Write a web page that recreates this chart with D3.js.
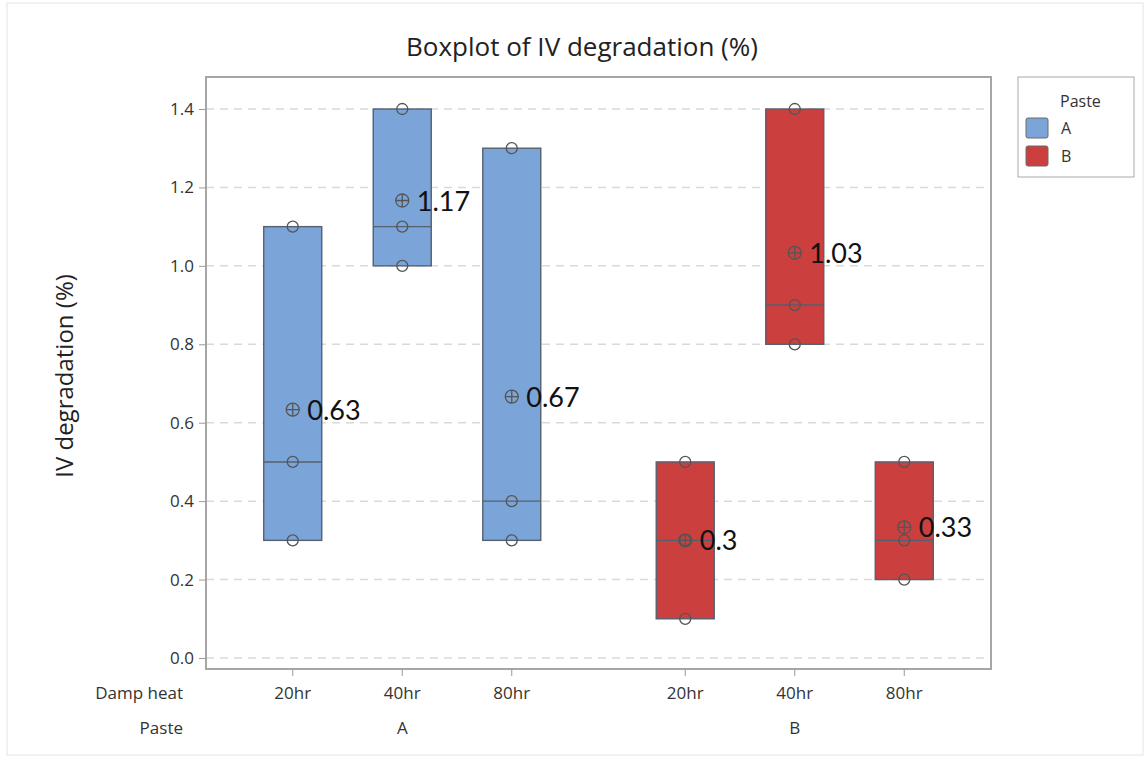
<!DOCTYPE html>
<html>
<head>
<meta charset="utf-8">
<script src="https://cdn.jsdelivr.net/npm/d3@7"></script>
<style>
  body { margin: 0; background: #fff; }
  text { font-family: "Open Sans", "Noto Sans", sans-serif; }
</style>
</head>
<body>
<div id="chart"></div>
<script>
// data
var pastes = ["A", "B"];
var hours = ["20hr", "40hr", "80hr"];
var valuesA = [[0.3, 0.5, 1.1], [1.0, 1.1, 1.4], [0.3, 0.4, 1.3]];
var valuesB = [[0.1, 0.3, 0.5], [0.8, 0.9, 1.4], [0.2, 0.3, 0.5]];
var yTicks = [0.0, 0.2, 0.4, 0.6, 0.8, 1.0, 1.2, 1.4];
var colors = {A: "#7ba4d8", B: "#cb3f3f"};

var W = 1145, H = 767;
var plotLeft = 206, plotRight = 991, plotTop = 77, plotBottom = 669;

var svg = d3.select("#chart").append("svg")
    .attr("width", W).attr("height", H);

// outer light frame
svg.append("rect")
    .attr("x", 7).attr("y", 3).attr("width", 1136).attr("height", 752)
    .attr("fill", "none").attr("stroke", "#e4e4e4");

// scales
var y = d3.scaleLinear().domain([0, 1.4]).range([658, 109]);
var xOuter = d3.scaleBand().domain(pastes).range([plotLeft, plotRight]).padding(0);
var xInner = d3.scalePoint().domain(hours).range([0, xOuter.bandwidth()]).padding(0.792);

// minitab style quartile
function quart(arr, p) {
  var s = arr.slice().sort(d3.ascending), n = s.length;
  var pos = p * (n + 1);
  if (pos <= 1) return s[0];
  if (pos >= n) return s[n - 1];
  var i = Math.floor(pos), f = pos - i;
  return s[i - 1] + f * (s[i] - s[i - 1]);
}

var groups = [];
pastes.forEach(function(p) {
  var vals = p === "A" ? valuesA : valuesB;
  hours.forEach(function(h, i) {
    var v = vals[i];
    groups.push({
      paste: p, hour: h, values: v,
      q1: quart(v, 0.25), med: quart(v, 0.5), q3: quart(v, 0.75),
      mean: d3.mean(v),
      cx: xOuter(p) + xInner(h)
    });
  });
});

// gridlines
svg.append("g").selectAll("line")
  .data(yTicks).enter().append("line")
    .attr("x1", plotLeft).attr("x2", plotRight)
    .attr("y1", function(d) { return y(d); })
    .attr("y2", function(d) { return y(d); })
    .attr("stroke", "#d9d9d9").attr("stroke-width", 1.5)
    .attr("stroke-dasharray", "8,6");

// plot frame
svg.append("rect")
    .attr("x", plotLeft).attr("y", plotTop)
    .attr("width", plotRight - plotLeft).attr("height", plotBottom - plotTop)
    .attr("fill", "none").attr("stroke", "#a6a6a6").attr("stroke-width", 2);

// y axis
var yAxis = svg.append("g")
    .attr("transform", "translate(" + plotLeft + ",0)")
    .call(d3.axisLeft(y).tickValues(yTicks).tickFormat(d3.format(".1f")).tickSize(7).tickPadding(5));
yAxis.select(".domain").remove();
yAxis.selectAll("line").attr("stroke", "#9a9a9a");
yAxis.selectAll("text").attr("font-size", 17).attr("fill", "#333")
    .style("font-family", "'Open Sans', sans-serif");

// x ticks
svg.append("g").selectAll("line")
  .data(groups).enter().append("line")
    .attr("x1", function(d) { return d.cx; }).attr("x2", function(d) { return d.cx; })
    .attr("y1", plotBottom).attr("y2", plotBottom + 7)
    .attr("stroke", "#9a9a9a");

svg.append("g").selectAll("text")
  .data(groups).enter().append("text")
    .attr("x", function(d) { return d.cx; })
    .attr("y", 699)
    .attr("text-anchor", "middle")
    .attr("font-size", 17).attr("fill", "#333")
    .text(function(d) { return d.hour; });

svg.append("g").selectAll("text")
  .data(pastes).enter().append("text")
    .attr("x", function(d) { return xOuter(d) + xOuter.bandwidth() / 2; })
    .attr("y", 734)
    .attr("text-anchor", "middle")
    .attr("font-size", 17).attr("fill", "#333")
    .text(function(d) { return d; });

svg.append("text").attr("x", 183).attr("y", 699).attr("text-anchor", "end")
    .attr("font-size", 17).attr("fill", "#333").text("Damp heat");
svg.append("text").attr("x", 183).attr("y", 734).attr("text-anchor", "end")
    .attr("font-size", 17).attr("fill", "#333").text("Paste");

// boxes
var boxW = 58;
var box = svg.append("g").selectAll("g")
  .data(groups).enter().append("g");

box.append("rect")
    .attr("x", function(d) { return d.cx - boxW / 2; })
    .attr("y", function(d) { return y(d.q3); })
    .attr("width", boxW)
    .attr("height", function(d) { return y(d.q1) - y(d.q3); })
    .attr("fill", function(d) { return colors[d.paste]; })
    .attr("stroke", "#55606e").attr("stroke-width", 1.4);

box.append("line")
    .attr("x1", function(d) { return d.cx - boxW / 2; })
    .attr("x2", function(d) { return d.cx + boxW / 2; })
    .attr("y1", function(d) { return y(d.med); })
    .attr("y2", function(d) { return y(d.med); })
    .attr("stroke", "#55606e").attr("stroke-width", 1.4);

// individual points
box.selectAll("circle.pt")
  .data(function(d) { return d.values.map(function(v) { return {cx: d.cx, v: v}; }); })
  .enter().append("circle")
    .attr("class", "pt")
    .attr("cx", function(d) { return d.cx; })
    .attr("cy", function(d) { return y(d.v); })
    .attr("r", 5.5)
    .attr("fill", "none").attr("stroke", "#555").attr("stroke-width", 1.3);

// mean symbol
var r = 6.5;
box.append("circle")
    .attr("cx", function(d) { return d.cx; })
    .attr("cy", function(d) { return y(d.mean); })
    .attr("r", r)
    .attr("fill", "none").attr("stroke", "#555").attr("stroke-width", 1.3);
box.append("path")
    .attr("d", function(d) {
      var cx = d.cx, cy = y(d.mean);
      return "M" + (cx - r) + "," + cy + "H" + (cx + r) + "M" + cx + "," + (cy - r) + "V" + (cy + r);
    })
    .attr("stroke", "#555").attr("stroke-width", 1.3);

box.append("text")
    .attr("x", function(d) { return d.cx + r + 8; })
    .attr("y", function(d) { return y(d.mean) + 10; })
    .attr("font-size", 27).attr("fill", "#111")
    .style("font-family", "Lato, 'Open Sans', sans-serif")
    .text(function(d) { return String(+d.mean.toFixed(2)); });

// title and y label
svg.append("text")
    .attr("x", 582).attr("y", 56)
    .attr("text-anchor", "middle")
    .attr("font-size", 26).attr("fill", "#222")
    .text("Boxplot of IV degradation (%)");

svg.append("text")
    .attr("transform", "translate(73,376)rotate(-90)")
    .attr("text-anchor", "middle")
    .attr("font-size", 24).attr("fill", "#222")
    .text("IV degradation (%)");

// legend
var lg = svg.append("g");
lg.append("rect")
    .attr("x", 1018).attr("y", 77).attr("width", 116).attr("height", 100)
    .attr("fill", "#fff").attr("stroke", "#a8a8a8");
lg.append("text").attr("x", 1060).attr("y", 107)
    .attr("font-size", 16).attr("fill", "#333").text("Paste");
lg.selectAll("g.item")
  .data(pastes).enter().append("g")
    .attr("class", "item")
    .each(function(d, i) {
      var g = d3.select(this);
      g.append("rect")
          .attr("x", 1026).attr("y", 118 + i * 28).attr("width", 22).attr("height", 20)
          .attr("rx", 2)
          .attr("fill", colors[d]).attr("stroke", "#6a6a6a");
      g.append("text")
          .attr("x", 1061).attr("y", 134 + i * 28)
          .attr("font-size", 16).attr("fill", "#333").text(d);
    });
</script>
</body>
</html>
